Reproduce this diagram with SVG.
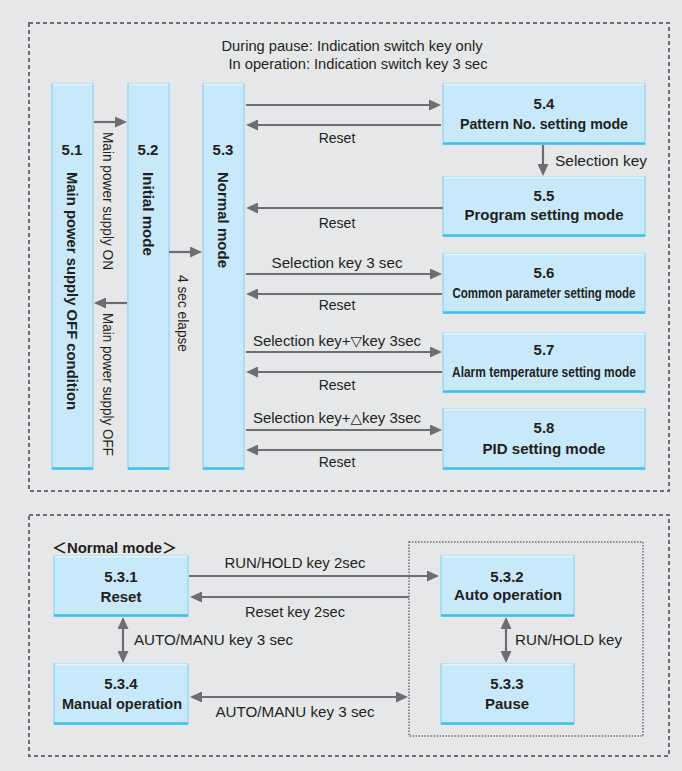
<svg xmlns="http://www.w3.org/2000/svg" width="682" height="771" viewBox="0 0 682 771">
<style>
.bg{fill:#e6e7e8}
.frame{fill:none;stroke:#6d6e71;stroke-width:2;stroke-dasharray:4 3}
.dot{fill:none;stroke:#6d6e71;stroke-width:1.5;stroke-dasharray:1.5 1.5}
.box{fill:#c7e9f9;stroke:#9bd8f4;stroke-width:1.5}
.hi{stroke:#e2f5fd;stroke-width:1.5}
.sh{stroke:#3cc0f0;stroke-width:2.5}
.t{font-family:"Liberation Sans","DejaVu Sans","Noto Sans CJK JP",sans-serif;fill:#231f20;font-size:14px}
.b{font-weight:bold;font-size:15px}
.m{text-anchor:middle}
.c line{stroke:#6d6e71;stroke-width:2.2}
</style>
<defs>
<marker id="ah" markerUnits="userSpaceOnUse" markerWidth="12" markerHeight="11" refX="6" refY="5.5" orient="auto-start-reverse" viewBox="0 0 12 11">
<path d="M0,0 L12,5.5 L0,11 z" fill="#6d6e71"/>
</marker>
</defs>
<rect class="bg" x="0" y="0" width="682" height="771"/>
<rect class="frame" x="29" y="23" width="640" height="468"/>
<rect class="frame" x="29" y="515" width="640" height="241"/>
<rect class="dot" x="409" y="542" width="234" height="194"/>

<g class="t">
<text class="m" x="352" y="51" textLength="261" lengthAdjust="spacingAndGlyphs">During pause: Indication switch key only</text>
<text class="m" x="358" y="69" textLength="259" lengthAdjust="spacingAndGlyphs">In operation: Indication switch key 3 sec</text>
<text class="b" x="52" y="553" textLength="125" lengthAdjust="spacingAndGlyphs">＜Normal mode＞</text>
</g>

<g id="n51">
<rect class="box" x="52" y="84" width="41" height="385"/>
<line class="hi" x1="53" y1="84.5" x2="92" y2="84.5"/>
<line class="sh" x1="52" y1="468.5" x2="93" y2="468.5"/>
<text class="t b m" x="72" y="155">5.1</text>
<text class="t b" transform="translate(72,172) rotate(90)" x="0" y="5.5" textLength="238" lengthAdjust="spacingAndGlyphs">Main power supply OFF condition</text>
</g>
<g id="n52">
<rect class="box" x="128" y="84" width="41" height="385"/>
<line class="hi" x1="129" y1="84.5" x2="168" y2="84.5"/>
<line class="sh" x1="128" y1="468.5" x2="169" y2="468.5"/>
<text class="t b m" x="148" y="155">5.2</text>
<text class="t b" transform="translate(148,172) rotate(90)" x="0" y="5.5" textLength="84" lengthAdjust="spacingAndGlyphs">Initial mode</text>
</g>
<g id="n53">
<rect class="box" x="203" y="84" width="41" height="385"/>
<line class="hi" x1="204" y1="84.5" x2="243" y2="84.5"/>
<line class="sh" x1="203" y1="468.5" x2="244" y2="468.5"/>
<text class="t b m" x="223" y="155">5.3</text>
<text class="t b" transform="translate(223,172) rotate(90)" x="0" y="5.5" textLength="96" lengthAdjust="spacingAndGlyphs">Normal mode</text>
</g>
<g id="n54">
<rect class="box" x="443" y="84" width="202" height="60"/>
<line class="hi" x1="444" y1="84.5" x2="644" y2="84.5"/>
<line class="sh" x1="443" y1="143.5" x2="645" y2="143.5"/>
<text class="t b m" x="544" y="109">5.4</text>
<text class="t b m" x="544" y="129" textLength="168" lengthAdjust="spacingAndGlyphs">Pattern No. setting mode</text>
</g>
<g id="n55">
<rect class="box" x="443" y="177" width="202" height="59"/>
<line class="hi" x1="444" y1="177.5" x2="644" y2="177.5"/>
<line class="sh" x1="443" y1="235.5" x2="645" y2="235.5"/>
<text class="t b m" x="544" y="201">5.5</text>
<text class="t b m" x="544" y="220" textLength="159" lengthAdjust="spacingAndGlyphs">Program setting mode</text>
</g>
<g id="n56">
<rect class="box" x="443" y="254" width="202" height="59"/>
<line class="hi" x1="444" y1="254.5" x2="644" y2="254.5"/>
<line class="sh" x1="443" y1="312.5" x2="645" y2="312.5"/>
<text class="t b m" x="544" y="278">5.6</text>
<text class="t b m" x="544" y="298" font-size="14" textLength="183" lengthAdjust="spacingAndGlyphs">Common parameter setting mode</text>
</g>
<g id="n57">
<rect class="box" x="443" y="333" width="202" height="59"/>
<line class="hi" x1="444" y1="333.5" x2="644" y2="333.5"/>
<line class="sh" x1="443" y1="391.5" x2="645" y2="391.5"/>
<text class="t b m" x="544" y="355">5.7</text>
<text class="t b m" x="544" y="377" font-size="14" textLength="184" lengthAdjust="spacingAndGlyphs">Alarm temperature setting mode</text>
</g>
<g id="n58">
<rect class="box" x="443" y="409" width="202" height="60"/>
<line class="hi" x1="444" y1="409.5" x2="644" y2="409.5"/>
<line class="sh" x1="443" y1="468.5" x2="645" y2="468.5"/>
<text class="t b m" x="544" y="433">5.8</text>
<text class="t b m" x="544" y="454" textLength="123" lengthAdjust="spacingAndGlyphs">PID setting mode</text>
</g>

<g id="n531">
<rect class="box" x="54" y="556" width="134" height="60"/>
<line class="hi" x1="55" y1="556.5" x2="187" y2="556.5"/>
<line class="sh" x1="54" y1="615.5" x2="188" y2="615.5"/>
<text class="t b m" x="121" y="582">5.3.1</text>
<text class="t b m" x="121" y="602">Reset</text>
</g>
<g id="n532">
<rect class="box" x="441" y="556" width="133" height="60"/>
<line class="hi" x1="442" y1="556.5" x2="573" y2="556.5"/>
<line class="sh" x1="441" y1="615.5" x2="574" y2="615.5"/>
<text class="t b m" x="507" y="582">5.3.2</text>
<text class="t b m" x="508" y="600" textLength="108" lengthAdjust="spacingAndGlyphs">Auto operation</text>
</g>
<g id="n534">
<rect class="box" x="54" y="664" width="134" height="60"/>
<line class="hi" x1="55" y1="664.5" x2="187" y2="664.5"/>
<line class="sh" x1="54" y1="723.5" x2="188" y2="723.5"/>
<text class="t b m" x="121" y="689">5.3.4</text>
<text class="t b m" x="122" y="709" textLength="120" lengthAdjust="spacingAndGlyphs">Manual operation</text>
</g>
<g id="n533">
<rect class="box" x="441" y="664" width="133" height="60"/>
<line class="hi" x1="442" y1="664.5" x2="573" y2="664.5"/>
<line class="sh" x1="441" y1="723.5" x2="574" y2="723.5"/>
<text class="t b m" x="507" y="689">5.3.3</text>
<text class="t b m" x="507" y="709">Pause</text>
</g>

<g id="connectors" class="c">
<line x1="94" y1="122" x2="121" y2="122" marker-end="url(#ah)"/>
<line x1="127" y1="303" x2="100" y2="303" marker-end="url(#ah)"/>
<line x1="169" y1="252" x2="196" y2="252" marker-end="url(#ah)"/>
<line x1="246" y1="105" x2="435" y2="105" marker-end="url(#ah)"/>
<line x1="441" y1="125" x2="252" y2="125" marker-end="url(#ah)"/>
<line x1="543" y1="145" x2="543" y2="170" marker-end="url(#ah)"/>
<line x1="443" y1="208" x2="252" y2="208" marker-end="url(#ah)"/>
<line x1="246" y1="274" x2="436" y2="274" marker-end="url(#ah)"/>
<line x1="442" y1="294" x2="252" y2="294" marker-end="url(#ah)"/>
<line x1="246" y1="352" x2="436" y2="352" marker-end="url(#ah)"/>
<line x1="442" y1="372" x2="252" y2="372" marker-end="url(#ah)"/>
<line x1="246" y1="430" x2="436" y2="430" marker-end="url(#ah)"/>
<line x1="442" y1="450" x2="252" y2="450" marker-end="url(#ah)"/>
<line x1="189" y1="576" x2="433" y2="576" marker-end="url(#ah)"/>
<line x1="409" y1="597" x2="196" y2="597" marker-end="url(#ah)"/>
<line x1="123" y1="623" x2="123" y2="657" marker-start="url(#ah)" marker-end="url(#ah)"/>
<line x1="506" y1="623" x2="506" y2="657" marker-start="url(#ah)" marker-end="url(#ah)"/>
<line x1="196" y1="697" x2="402" y2="697" marker-start="url(#ah)" marker-end="url(#ah)"/>
</g>

<g class="t">
<text transform="translate(108,132) rotate(90)" x="0" y="5" textLength="138" lengthAdjust="spacingAndGlyphs">Main power supply ON</text>
<text transform="translate(108,313) rotate(90)" x="0" y="5" textLength="143" lengthAdjust="spacingAndGlyphs">Main power supply OFF</text>
<text transform="translate(183,275) rotate(90)" x="0" y="5" textLength="77" lengthAdjust="spacingAndGlyphs">4 sec elapse</text>
<text class="m" x="337" y="143">Reset</text>
<text x="555" y="166" textLength="92" lengthAdjust="spacingAndGlyphs">Selection key</text>
<text class="m" x="337" y="228">Reset</text>
<text class="m" x="337" y="268" textLength="131" lengthAdjust="spacingAndGlyphs">Selection key 3 sec</text>
<text class="m" x="337" y="310">Reset</text>
<text class="m" x="337" y="346" textLength="168" lengthAdjust="spacingAndGlyphs">Selection key+▽key 3sec</text>
<text class="m" x="337" y="390">Reset</text>
<text class="m" x="337" y="423" textLength="168" lengthAdjust="spacingAndGlyphs">Selection key+△key 3sec</text>
<text class="m" x="337" y="467">Reset</text>
<text class="m" x="295" y="568" textLength="141" lengthAdjust="spacingAndGlyphs">RUN/HOLD key 2sec</text>
<text class="m" x="295" y="617" textLength="100" lengthAdjust="spacingAndGlyphs">Reset key 2sec</text>
<text x="134" y="645" textLength="159" lengthAdjust="spacingAndGlyphs">AUTO/MANU key 3 sec</text>
<text x="515" y="645" textLength="107" lengthAdjust="spacingAndGlyphs">RUN/HOLD key</text>
<text class="m" x="295" y="717" textLength="159" lengthAdjust="spacingAndGlyphs">AUTO/MANU key 3 sec</text>
</g>
</svg>
